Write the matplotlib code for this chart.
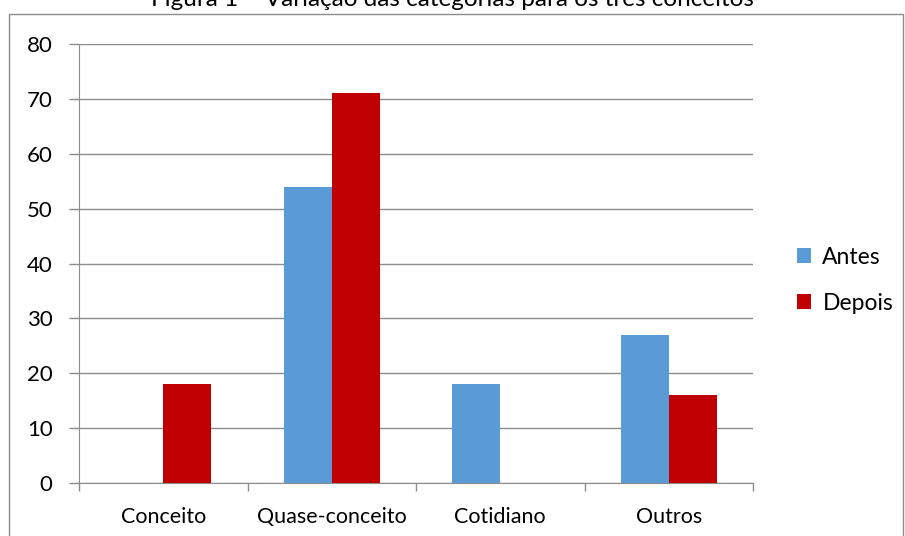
import matplotlib
matplotlib.use("Agg")
import matplotlib.pyplot as plt
import numpy as np
from matplotlib.patches import Rectangle

plt.rcParams['font.family'] = ['Lato', 'DejaVu Sans']

categorias = ['Conceito', 'Quase-conceito', 'Cotidiano', 'Outros']
antes = [0, 54, 18, 27]
depois = [18, 71, 0, 16]

azul = '#5B9BD5'
vermelho = '#C00000'
grade = '#8C8C8C'

fig = plt.figure(figsize=(9.05, 5.36), dpi=100)
ax = fig.add_axes([79 / 905, 1 - 483 / 536, 674 / 905, 439 / 536])

x = np.arange(len(categorias))
w = 0.285
ax.bar(x - w / 2, antes, w, color=azul, label='Antes', zorder=3)
ax.bar(x + w / 2, depois, w, color=vermelho, label='Depois', zorder=3)

ax.set_xlim(-0.5, len(categorias) - 0.5)
ax.set_ylim(0, 80)
ax.set_yticks(range(0, 81, 10))
ax.yaxis.grid(True, color=grade, linewidth=1, zorder=0)

# ticks nas divisões entre categorias, rótulos no centro
ax.set_xticks(np.arange(-0.5, len(categorias), 1))
ax.set_xticklabels([])
ax.set_xticks(x, minor=True)
ax.set_xticklabels(categorias, minor=True)
ax.tick_params(axis='x', which='major', length=6, color=grade, width=1)
ax.tick_params(axis='x', which='minor', length=0, labelsize=15.5, pad=17)
ax.tick_params(axis='y', length=7, color=grade, width=1, labelsize=16, pad=12)

for s in ['top', 'right']:
    ax.spines[s].set_visible(False)
for s in ['left', 'bottom']:
    ax.spines[s].set_color(grade)

ax.legend(loc='center left', bbox_to_anchor=(1.035, 0.462), frameon=False,
          fontsize=16.5, handlelength=0.6, handleheight=0.6, handletextpad=0.5,
          labelspacing=1.1)

# moldura externa da área do gráfico
fig.add_artist(Rectangle((9 / 905, -0.01), 894 / 905, 1 - 14 / 536 + 0.01,
                         transform=fig.transFigure, fill=False,
                         edgecolor=grade, linewidth=1))

fig.text(0.5, 1 - 6 / 536, 'Figura 1 – Variação das categorias para os três conceitos',
         ha='center', va='baseline', fontsize=17.5)

fig.savefig('out.png', dpi=100)
